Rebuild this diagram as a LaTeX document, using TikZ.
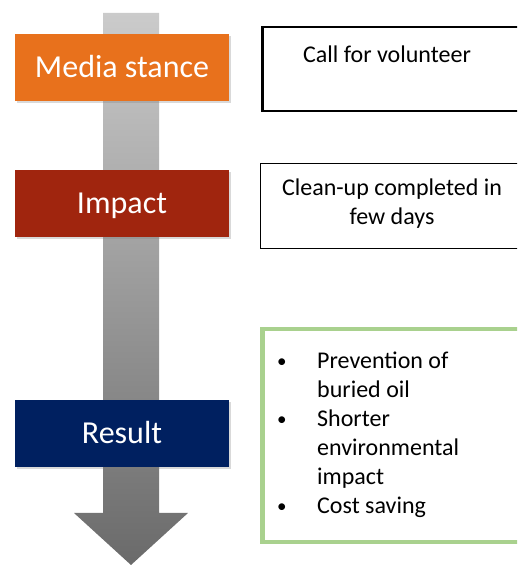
\documentclass[tikz,border=0pt]{standalone}
\usepackage{fontspec}
\setmainfont{Carlito}
\usetikzlibrary{shadows}

\definecolor{stanceorange}{HTML}{E8711C}
\definecolor{impactred}{HTML}{A0250E}
\definecolor{resultblue}{HTML}{002060}
\definecolor{savegreen}{HTML}{A9D18E}
\definecolor{shafttop}{HTML}{CBCBCB}
\definecolor{shaftbottom}{HTML}{6A6A6A}

% small bullet for the list
\newcommand{\listdot}{\raisebox{1pt}{\fontsize{19}{29}\selectfont\textbullet}}

\begin{document}
\begin{tikzpicture}[x=1pt,y=1pt,
  stagebox/.style={draw=none, text=white, minimum width=214pt, minimum height=67pt,
    text height=21pt, text depth=0pt, inner sep=0pt, font=\fontsize{32}{38}\selectfont,
    drop shadow={shadow xshift=1.5pt, shadow yshift=-2pt, opacity=0.3}},
  notebox/.style={draw=black, minimum width=290pt, anchor=north west, inner sep=0pt},
  notetext/.style={font=\fontsize{24}{29}\selectfont, align=center}]
  \clip (0,0) rectangle (517,565);
  % time line running down behind the stages
  \shade[top color=shafttop, bottom color=shaftbottom]
    (103,552) -- (159,552) -- (159,52) -- (188,52) -- (131,0) -- (74,52) -- (103,52) -- cycle;
  % stages
  \node[stagebox, fill=stanceorange] (stance) at (122,497.5) {Media stance};
  \node[stagebox, fill=impactred] (impact) at (122,361.5) {Impact};
  \node[stagebox, fill=resultblue] (result) at (122,131.5) {Result};
  % notes on the right
  \node[notebox, line width=2.5pt, minimum height=84pt] (callbox) at (261,539) {};
  \node[notetext, anchor=base] (calltext) at (387,502) {Call for volunteer};
  \node[notebox, line width=1pt, minimum height=85pt] (cleanbox) at (260,402) {};
  \node[notetext, anchor=base] (cleantext) at (392,340) {Clean-up completed in\\few days};
  \node[notebox, draw=savegreen, line width=4.5pt, minimum height=213pt] (savebox) at (260,238) {};
  \node[anchor=north west, inner sep=0pt, font=\fontsize{24}{29}\selectfont] (savelist) at (277,217)
    {\begin{tabular}{@{}p{40pt}@{}l@{}}
      \listdot & Prevention of\\
       & buried oil\\
      \listdot & Shorter\\
       & environmental\\
       & impact\\
      \listdot & Cost saving
    \end{tabular}};
\end{tikzpicture}
\end{document}
